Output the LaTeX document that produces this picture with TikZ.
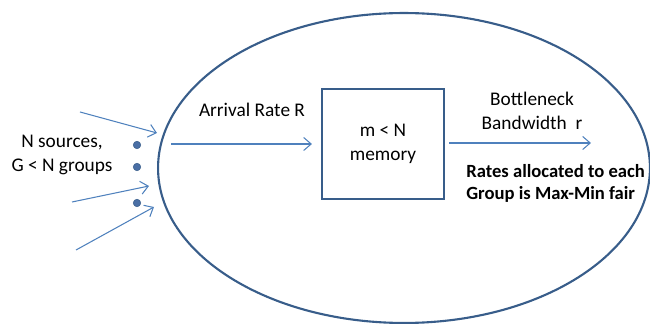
\documentclass[tikz,border=0pt]{standalone}
\usepackage{fontspec}
\setmainfont{Carlito}
\usepackage{xcolor}
\usetikzlibrary{positioning}
\usetikzlibrary{arrows.meta}
\usetikzlibrary{shapes.geometric}

\definecolor{rim}{HTML}{385D8A}
\definecolor{flow}{HTML}{4F81BD}
\definecolor{dotblue}{HTML}{4A6FA5}

\begin{document}
\begin{tikzpicture}[x=0.02cm, y=-0.02cm,
				bneck/.style={ellipse, draw=rim, line width=1.2pt,
						minimum width=9.84cm, minimum height=6.2cm, inner sep=0pt},
				membox/.style={rectangle, draw=rim, line width=1.2pt,
						minimum width=2.44cm, minimum height=2.2cm, align=center,
						font=\fontsize{11}{13.5}\selectfont},
				txt/.style={align=center, font=\fontsize{11}{13.5}\selectfont},
				srcdot/.style={circle, fill=dotblue, draw=rim, line width=0.3pt,
						minimum size=0.15cm, inner sep=0pt},
				flowarrow/.style={draw=flow, line width=0.6pt,
						-{Straight Barb[length=1.5mm, width=2.6mm]}}
			]
			\useasboundingbox (0,0) rectangle (650,324);

			% bottleneck region and the memory box
			\node[bneck] (dom) at (404,168) {};
			\node[membox] (mem) at (383,144) {m < N\\memory};

			% sources on the left
			\node[txt] (src) at (62,155) {N sources,\\G < N groups};
			\node[srcdot] (d1) at (137,145) {};
			\node[srcdot] (d2) at (137,167) {};
			\node[srcdot] (d3) at (137,203) {};

			\coordinate (s1) at (80,112);
			\coordinate (t1) at (157,133);
			\coordinate (s2) at (72,202);
			\coordinate (t2) at (149,186);
			\coordinate (s3) at (76,250);
			\coordinate (t3) at (154,207);

			% rates in and out
			\coordinate (a0) at (171,144);
			\coordinate (b1) at (591,143);
			\node[txt] (arr) at (252,110) {Arrival Rate R};
			\node[txt] (bw) at (532,111) {Bottleneck\\Bandwidth~~r};
			\node[align=left, anchor=west, inner xsep=0pt, font=\fontsize{10.6}{12.5}\selectfont\bfseries] (fair) at (466,183)
				{Rates allocated to each\\Group is Max-Min fair};

			% Arrows
			\draw[flowarrow] (s1) -- (t1);
			\draw[flowarrow] (s2) -- (t2);
			\draw[flowarrow] (s3) -- (t3);
			\draw[flowarrow, shorten >=0.18cm] (a0) -- (mem.west);
			\draw[flowarrow, shorten <=0.08cm] (mem.east |- b1) -- (b1);

		\end{tikzpicture}
\end{document}
